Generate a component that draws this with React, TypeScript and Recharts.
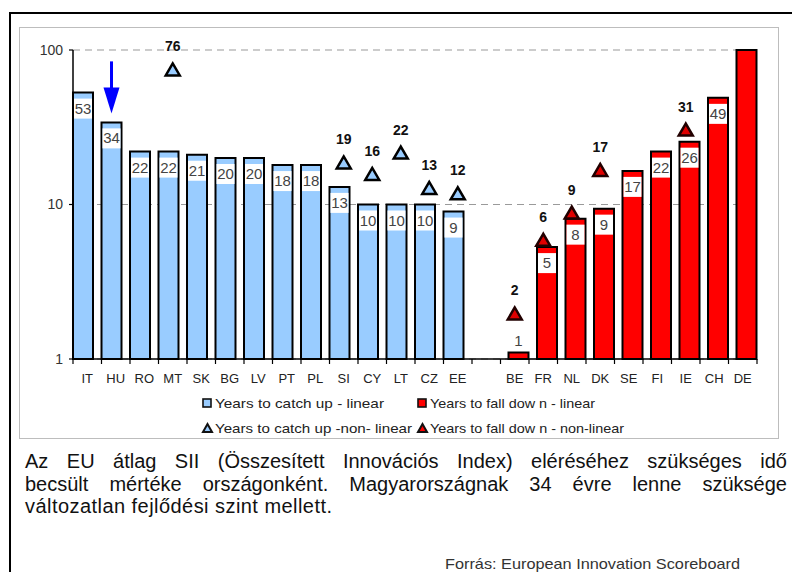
import React from 'react';
import { ComposedChart, Bar, Scatter, XAxis, YAxis, CartesianGrid, LabelList, ReferenceDot } from 'recharts';

// ---------- data ----------
const countries = ['IT', 'HU', 'RO', 'MT', 'SK', 'BG', 'LV', 'PT', 'PL', 'SI', 'CY', 'LT', 'CZ', 'EE', '', 'BE', 'FR', 'NL', 'DK', 'SE', 'FI', 'IE', 'CH', 'DE'];
const catchUpLinear = [53, 34, 22, 22, 21, 20, 20, 18, 18, 13, 10, 10, 10, 9, null, null, null, null, null, null, null, null, null, null];
const catchUpLinearLabels = ['53', '34', '22', '22', '21', '20', '20', '18', '18', '13', '10', '10', '10', '9', '', '', '', '', '', '', '', '', '', ''];
const catchUpNonLinear = [null, null, null, 76, null, null, null, null, null, 19, 16, 22, 13, 12, null, null, null, null, null, null, null, null, null, null];
const fallDownLinear = [null, null, null, null, null, null, null, null, null, null, null, null, null, null, null, 1.1, 5.3, 8.1, 9.4, 16.5, 22, 25.5, 49, 100];
const fallDownLinearLabels = ['', '', '', '', '', '', '', '', '', '', '', '', '', '', '', '1', '5', '8', '9', '17', '22', '26', '49', ''];
const fallDownNonLinear = [null, null, null, null, null, null, null, null, null, null, null, null, null, null, null, 2, 6, 9, 17, null, null, 31, null, null];
const yTicks = [1, 10, 100];
const highlighted = 'HU';

const legendItems = [
  { label: 'Years to catch up - linear', kind: 'square', color: '#99ccff' },
  { label: 'Years to fall dow n - linear', kind: 'square', color: '#ff0000' },
  { label: 'Years to catch up -non- linear', kind: 'triangle', color: '#99ccff' },
  { label: 'Years to fall dow n - non-linear', kind: 'triangle', color: '#ff0000' },
];

const captionLines = [
  'Az EU átlag SII (Összesített Innovációs Index) eléréséhez szükséges idő',
  'becsült mértéke országonként. Magyarországnak 34 évre lenne szüksége',
  'változatlan fejlődési szint mellett.',
];
const sourceText = 'Forrás: European Innovation Scoreboard';

const data = countries.map((name, i) => ({
  name,
  catchLin: catchUpLinear[i],
  catchLinLabel: catchUpLinearLabels[i],
  catchNL: catchUpNonLinear[i],
  fallLin: fallDownLinear[i],
  fallLinLabel: fallDownLinearLabels[i],
  fallNL: fallDownNonLinear[i],
}));

// ---------- layout ----------
const W = 792;
const H = 572;
const CHART_H = 440;
const MARGIN = { top: 50, right: 35, bottom: 51, left: 23 };
const Y_W = 50;
const X_H = 30;
const PLOT_W = W - MARGIN.left - Y_W - MARGIN.right;
const BAND = PLOT_W / countries.length;
const BAR = 20;
const BLUE = '#99ccff';
const RED = '#ff0000';
const FONT = "'Liberation Sans', Arial, Helvetica, sans-serif";

const BarLabel = (props: any) => {
  const vb = props.viewBox || props;
  const x = vb.x ?? props.x;
  const y = vb.y ?? props.y;
  const width = vb.width ?? props.width;
  const height = vb.height ?? props.height;
  const value = props.value;
  if (value === '' || value == null || x == null || isNaN(y)) return null;
  const boxH = 20;
  const inside = height > boxH + 8;
  const top = inside ? y + 6 : y - boxH - 2;
  return (
    <g>
      {inside && <rect x={x + 1} y={top} width={width - 2} height={boxH} fill="#fff" />}
      <text x={x + width / 2} y={top + boxH / 2 + 5} textAnchor="middle" fontSize={15} fill="#444" fontFamily={FONT}>
        {value}
      </text>
    </g>
  );
};

const makeTriangle = (key: string, fill: string, stroke: string) => (props: any) => {
  const { cx, cy, payload } = props;
  if (!payload || payload[key] == null || cx == null || cy == null || isNaN(cy)) return <g />;
  return (
    <g>
      <polygon
        points={`${cx},${cy - 5} ${cx - 7},${cy + 7} ${cx + 7},${cy + 7}`}
        fill={fill}
        stroke={stroke}
        strokeWidth={2.5}
        strokeLinejoin="miter"
      />
      <text x={cx} y={cy - 17} textAnchor="middle" fontSize={14} fontWeight="bold" fill="#111" fontFamily={FONT}>
        {payload[key]}
      </text>
    </g>
  );
};

const BlueTriangle = makeTriangle('catchNL', BLUE, '#000');
const RedTriangle = makeTriangle('fallNL', '#e00000', '#220000');

const XTick = (props: any) => {
  const { x, y, payload, index } = props;
  const half = BAND / 2;
  const isLast = index === countries.length - 1 || payload?.value === countries[countries.length - 1];
  return (
    <g>
      <line x1={x - half} x2={x - half} y1={y - 5} y2={y} stroke="#000" strokeWidth={1.2} />
      {isLast && <line x1={x + half} x2={x + half} y1={y - 5} y2={y} stroke="#000" strokeWidth={1.2} />}
      <text x={x} y={y + 19} textAnchor="middle" fontSize={13} fill="#222" fontFamily={FONT}>
        {payload.value}
      </text>
    </g>
  );
};

const Arrow = (props: any) => {
  const { cx, cy } = props;
  if (cx == null || cy == null) return <g />;
  const x = cx - (BAND / 2 - BAR / 2);
  const tip = cy - 9;
  const headH = 26;
  const headW = 16;
  return (
    <g>
      <rect x={x - 1.5} y={tip - 52} width={3} height={52 - headH + 2} fill="#0000ff" />
      <polygon points={`${x},${tip} ${x - headW / 2},${tip - headH} ${x + headW / 2},${tip - headH}`} fill="#0000ff" />
    </g>
  );
};

const LegendBox = () => {
  const cols = [203, 418];
  const rows = [403, 428];
  const lengths = [169, 165, 197, 194];
  return (
    <svg width={W} height={H} style={{ position: 'absolute', left: 0, top: 0, pointerEvents: 'none' }}>
      {legendItems.map((it, i) => {
        const cx = cols[i % 2];
        const cy = rows[Math.floor(i / 2)];
        return (
          <g key={it.label}>
            {it.kind === 'square' ? (
              <rect x={cx} y={cy - 4} width={8} height={8} fill={it.color} stroke="#111" strokeWidth={1.6} />
            ) : (
              <polygon
                points={`${cx + 4.5},${cy - 4} ${cx},${cy + 4} ${cx + 9},${cy + 4}`}
                fill={it.color}
                stroke="#111"
                strokeWidth={2}
              />
            )}
            <text
              x={cx + 12}
              y={cy + 4.5}
              fontSize={13}
              fill="#222"
              fontFamily={FONT}
              textLength={lengths[i]}
              lengthAdjust="spacingAndGlyphs"
            >
              {it.label}
            </text>
          </g>
        );
      })}
      <text x={445} y={569} fontSize={15} fill="#333" fontFamily={FONT} textLength={295} lengthAdjust="spacingAndGlyphs">
        {sourceText}
      </text>
    </svg>
  );
};

export default function App() {
  return (
    <div
      style={{
        position: 'absolute',
        left: 0,
        top: 0,
        width: W,
        height: H,
        overflow: 'hidden',
        background: '#fff',
        fontFamily: FONT,
      }}
    >
      <div style={{ position: 'absolute', left: 9, top: 12, width: 820, height: 620, border: '2px solid #000', boxSizing: 'border-box' }} />
      <div style={{ position: 'absolute', left: 19, top: 27, width: 760, height: 412, border: '1.5px solid #bdbdbd', boxSizing: 'border-box' }} />
      <div style={{ position: 'absolute', left: 0, top: 0 }}>
        <ComposedChart width={W} height={CHART_H} data={data} margin={MARGIN} barGap={-12} barCategoryGap={0}>
          <CartesianGrid vertical={false} stroke="#9a9a9a" strokeDasharray="7 5" strokeWidth={1.2} />
          <XAxis
            dataKey="name"
            interval={0}
            height={X_H}
            tickLine={false}
            tickSize={5}
            tickMargin={0}
            axisLine={{ stroke: '#000', strokeWidth: 1.5 }}
            tick={<XTick />}
          />
          <YAxis
            type="number"
            scale="log"
            domain={[1, 100]}
            ticks={yTicks}
            width={Y_W}
            tickSize={4}
            tickMargin={6}
            axisLine={{ stroke: '#000', strokeWidth: 1.5 }}
            tickLine={{ stroke: '#000', strokeWidth: 1.2 }}
            tick={{ fontSize: 14, fill: '#333', fontFamily: FONT }}
          />
          <Bar dataKey="catchLin" fill={BLUE} stroke="#000" strokeWidth={2} barSize={BAR} isAnimationActive={false}>
            <LabelList dataKey="catchLinLabel" content={<BarLabel />} />
          </Bar>
          <Bar dataKey="fallLin" fill={RED} stroke="#000" strokeWidth={2} barSize={BAR} isAnimationActive={false}>
            <LabelList dataKey="fallLinLabel" content={<BarLabel />} />
          </Bar>
          <Scatter dataKey="catchNL" shape={BlueTriangle} isAnimationActive={false} />
          <Scatter dataKey="fallNL" shape={RedTriangle} isAnimationActive={false} />
          <ReferenceDot x={highlighted} y={catchUpLinear[countries.indexOf(highlighted)] as number} r={0} shape={Arrow} ifOverflow="visible" />
        </ComposedChart>
      </div>
      <LegendBox />
      {captionLines.map((line, i) => (
        <div
          key={i}
          style={{
            position: 'absolute',
            left: 25,
            top: 450 + i * 22.5,
            width: i < 2 ? 762 : 'auto',
            fontSize: 20,
            lineHeight: '22.5px',
            whiteSpace: 'nowrap',
            color: '#111',
            textAlign: i < 2 ? 'justify' : 'left',
            textAlignLast: i < 2 ? 'justify' : 'auto',
            letterSpacing: i < 2 ? 0 : 0.45,
          } as React.CSSProperties}
        >
          {line}
        </div>
      ))}
    </div>
  );
}
